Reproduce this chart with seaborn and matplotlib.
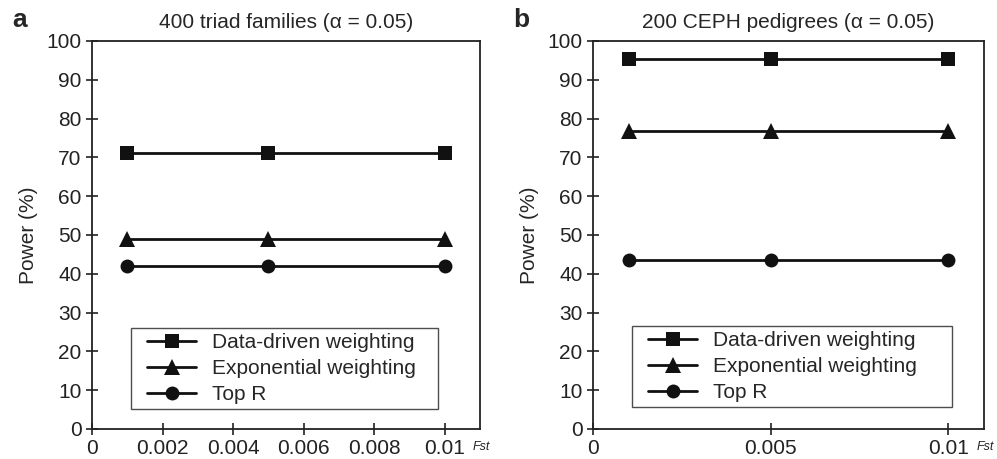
import matplotlib
import matplotlib.pyplot as plt
import pandas as pd
import seaborn as sns
from matplotlib.legend_handler import HandlerLine2D
from matplotlib.lines import Line2D

matplotlib.use("Agg")

FST = [0.001, 0.005, 0.01]
SERIES = ["Data-driven weighting", "Exponential weighting", "Top R"]

TRIAD_POWER = {
    "Data-driven weighting": [71.1, 71.1, 71.1],
    "Exponential weighting": [49.0, 49.0, 49.0],
    "Top R": [42.0, 42.0, 42.0],
}
CEPH_POWER = {
    "Data-driven weighting": [95.4, 95.4, 95.4],
    "Exponential weighting": [76.8, 76.8, 76.8],
    "Top R": [43.5, 43.5, 43.5],
}

TITLES = ["400 triad families (\u03b1 = 0.05)", "200 CEPH pedigrees (\u03b1 = 0.05)"]
PANEL_LABELS = ["a", "b"]
XTICKS = [
    [0, 0.002, 0.004, 0.006, 0.008, 0.01],
    [0, 0.005, 0.01],
]
XTICKLABELS = [
    ["0", "0.002", "0.004", "0.006", "0.008", "0.01"],
    ["0", "0.005", "0.01"],
]
YTICKS = list(range(0, 101, 10))

MARKERS = {"Data-driven weighting": "s", "Exponential weighting": "^", "Top R": "o"}
FONT = 15


def to_frame(power: dict) -> pd.DataFrame:
    rows = []
    for name in SERIES:
        for fst, value in zip(FST, power[name]):
            rows.append({"Fst": fst, "Power": value, "Method": name})
    return pd.DataFrame(rows)


def main() -> None:
    sns.set_theme(style="white")
    plt.rcParams["font.family"] = ["Liberation Sans", "DejaVu Sans"]

    fig = plt.figure(figsize=(9.97, 4.59), dpi=100)
    positions = [
        [0.0923, 0.0654, 0.3891, 0.8453],
        [0.5948, 0.0654, 0.3922, 0.8453],
    ]
    legend_boxes = [(0.1005, 0.0515, 0.791, 0.2), (0.0997, 0.0567, 0.818, 0.2)]
    datasets = [to_frame(TRIAD_POWER), to_frame(CEPH_POWER)]

    for i, (pos, data) in enumerate(zip(positions, datasets)):
        ax = fig.add_axes(pos)
        sns.lineplot(
            data=data,
            x="Fst",
            y="Power",
            hue="Method",
            style="Method",
            hue_order=SERIES,
            style_order=SERIES,
            palette=["#111111"] * 3,
            markers=MARKERS,
            dashes=False,
            markersize=10,
            linewidth=2,
            markeredgewidth=0,
            ax=ax,
        )
        for line in ax.lines:
            if line.get_marker() == "^":
                line.set_markersize(11)
        ax.set_xlim(0, 0.011)
        ax.set_ylim(0, 100)
        ax.set_xticks(XTICKS[i])
        ax.set_xticklabels(XTICKLABELS[i])
        ax.set_yticks(YTICKS)
        ax.set_xlabel("")
        ax.set_ylabel("Power (%)", fontsize=FONT, labelpad=6)
        ax.set_title(TITLES[i], fontsize=FONT, pad=9)
        for spine in ax.spines.values():
            spine.set_color("#222222")
            spine.set_linewidth(1.3)
        ax.tick_params(
            axis="both", direction="inout", length=9, width=1.2,
            colors="#222222", labelsize=FONT, left=True, bottom=True, pad=3,
        )
        ax.text(0.98, -0.046, "Fst", transform=ax.transAxes, fontsize=9,
                style="italic", ha="left", va="center", color="#222222")
        ax.text(-0.205, 1.055, PANEL_LABELS[i], transform=ax.transAxes,
                fontsize=19, fontweight="bold", ha="left", va="center")

        handles, labels = ax.get_legend_handles_labels()
        leg = ax.legend(
            handles, labels, loc="lower left", bbox_to_anchor=legend_boxes[i],
            mode="expand", fontsize=FONT, frameon=True, fancybox=False,
            handlelength=2.9, handletextpad=0.77, borderpad=0.23,
            labelspacing=0.34, borderaxespad=0,
            handler_map={Line2D: HandlerLine2D(xpad=0.53)},
        )
        leg.get_frame().set_edgecolor("#222222")
        leg.get_frame().set_linewidth(1.0)

    fig.savefig("out.png", dpi=100)
    plt.close(fig)


if __name__ == "__main__":
    main()
